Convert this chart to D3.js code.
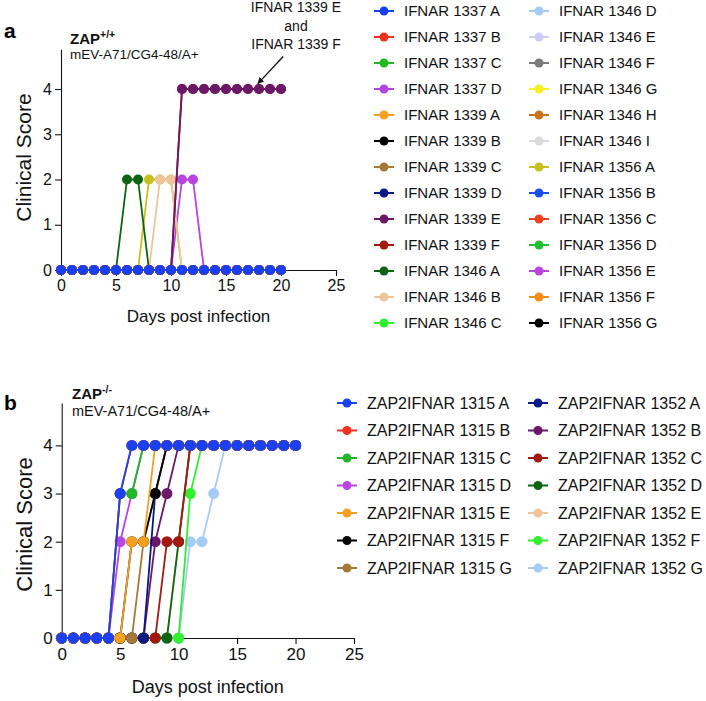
<!DOCTYPE html>
<html>
<head>
<meta charset="utf-8">
<script src="https://cdn.jsdelivr.net/npm/d3@7"></script>
<style>
  body { margin: 0; background: #fff; }
  svg { display: block; font-family: "Liberation Sans", Arial, Helvetica, sans-serif; }
</style>
</head>
<body>
<svg id="chart" width="706" height="701"></svg>
<script>
// ---------------- DATA ----------------
const days = [0,1,2,3,4,5,6,7,8,9,10,11,12,13,14,15,16,17,18,19,20];
const xTicks = [0,5,10,15,20,25];
const yTicks = [0,1,2,3,4];

// Panel a: ZAP+/+ (IFNAR mice)
const namesA = [
  "IFNAR 1337 A","IFNAR 1337 B","IFNAR 1337 C","IFNAR 1337 D",
  "IFNAR 1339 A","IFNAR 1339 B","IFNAR 1339 C","IFNAR 1339 D","IFNAR 1339 E","IFNAR 1339 F",
  "IFNAR 1346 A","IFNAR 1346 B","IFNAR 1346 C","IFNAR 1346 D","IFNAR 1346 E","IFNAR 1346 F",
  "IFNAR 1346 G","IFNAR 1346 H","IFNAR 1346 I",
  "IFNAR 1356 A","IFNAR 1356 B","IFNAR 1356 C","IFNAR 1356 D","IFNAR 1356 E","IFNAR 1356 F","IFNAR 1356 G"
];
const colorsA = [
  "#1a3ff0","#f0301e","#22b822","#b545e0",
  "#f5a020","#000000","#a57a35","#0a1a85","#6c1868","#a51810",
  "#0f6414","#f0c49a","#2ef02e","#a6ccf5","#cfcdf5","#7a7a7a",
  "#f8f020","#c87418","#dadada",
  "#c8c018","#1c4ef5","#f0401a","#20c030","#b845e0","#f58c18","#000000"
];
const valuesA = [
  [0,0,0,0,0,0,0,0,0,0,0,0,0,0,0,0,0,0,0,0,0], // 1337 A
  [0,0,0,0,0,0,0,0,0,0,0,0,0,0,0,0,0,0,0,0,0], // 1337 B
  [0,0,0,0,0,0,0,0,0,0,0,0,0,0,0,0,0,0,0,0,0], // 1337 C
  [0,0,0,0,0,0,0,0,0,0,0,0,0,0,0,0,0,0,0,0,0], // 1337 D
  [0,0,0,0,0,0,0,0,0,0,0,0,0,0,0,0,0,0,0,0,0], // 1339 A
  [0,0,0,0,0,0,0,0,0,0,0,0,0,0,0,0,0,0,0,0,0], // 1339 B
  [0,0,0,0,0,0,0,0,0,0,0,0,0,0,0,0,0,0,0,0,0], // 1339 C
  [0,0,0,0,0,0,0,0,0,0,0,0,0,0,0,0,0,0,0,0,0], // 1339 D
  [0,0,0,0,0,0,0,0,0,0,0,4,4,4,4,4,4,4,4,4,4], // 1339 E
  [0,0,0,0,0,0,0,0,0,0,0,4,4,4,4,4,4,4,4,4,4], // 1339 F
  [0,0,0,0,0,0,2,2,0,0,0,0,0,0,0,0,0,0,0,0,0], // 1346 A
  [0,0,0,0,0,0,0,0,0,2,2,0,0,0,0,0,0,0,0,0,0], // 1346 B
  [0,0,0,0,0,0,0,0,0,0,0,0,0,0,0,0,0,0,0,0,0], // 1346 C
  [0,0,0,0,0,0,0,0,0,0,0,0,0,0,0,0,0,0,0,0,0], // 1346 D
  [0,0,0,0,0,0,0,0,0,0,0,0,0,0,0,0,0,0,0,0,0], // 1346 E
  [0,0,0,0,0,0,0,0,0,0,0,0,0,0,0,0,0,0,0,0,0], // 1346 F
  [0,0,0,0,0,0,0,0,0,0,0,0,0,0,0,0,0,0,0,0,0], // 1346 G
  [0,0,0,0,0,0,0,0,0,0,0,0,0,0,0,0,0,0,0,0,0], // 1346 H
  [0,0,0,0,0,0,0,0,0,0,0,0,0,0,0,0,0,0,0,0,0], // 1346 I
  [0,0,0,0,0,0,0,0,2,2,2,0,0,0,0,0,0,0,0,0,0], // 1356 A
  [0,0,0,0,0,0,0,0,0,0,0,0,0,0,0,0,0,0,0,0,0], // 1356 B
  [0,0,0,0,0,0,0,0,0,0,0,0,0,0,0,0,0,0,0,0,0], // 1356 C
  [0,0,0,0,0,0,0,0,0,0,0,0,0,0,0,0,0,0,0,0,0], // 1356 D
  [0,0,0,0,0,0,0,0,0,0,0,2,2,0,0,0,0,0,0,0,0], // 1356 E
  [0,0,0,0,0,0,0,0,0,0,0,0,0,0,0,0,0,0,0,0,0], // 1356 F
  [0,0,0,0,0,0,0,0,0,0,0,0,0,0,0,0,0,0,0,0,0]  // 1356 G
];

// Panel b: ZAP-/- (ZAP2IFNAR mice)
const namesB = [
  "ZAP2IFNAR 1315 A","ZAP2IFNAR 1315 B","ZAP2IFNAR 1315 C","ZAP2IFNAR 1315 D",
  "ZAP2IFNAR 1315 E","ZAP2IFNAR 1315 F","ZAP2IFNAR 1315 G",
  "ZAP2IFNAR 1352 A","ZAP2IFNAR 1352 B","ZAP2IFNAR 1352 C","ZAP2IFNAR 1352 D",
  "ZAP2IFNAR 1352 E","ZAP2IFNAR 1352 F","ZAP2IFNAR 1352 G"
];
const colorsB = [
  "#1a40f0","#f03020","#20b828","#b848e0","#f5a020","#000000","#a57a35",
  "#0a1a85","#6c1868","#a51810","#0f6414","#f0c49a","#2ef02e","#a6ccf5"
];
const valuesB = [
  [0,0,0,0,0,3,4,4,4,4,4,4,4,4,4,4,4,4,4,4,4], // 1315 A
  [0,0,0,0,0,3,4,4,4,4,4,4,4,4,4,4,4,4,4,4,4], // 1315 B
  [0,0,0,0,0,3,3,4,4,4,4,4,4,4,4,4,4,4,4,4,4], // 1315 C
  [0,0,0,0,0,2,3,4,4,4,4,4,4,4,4,4,4,4,4,4,4], // 1315 D
  [0,0,0,0,0,0,2,2,4,4,4,4,4,4,4,4,4,4,4,4,4], // 1315 E
  [0,0,0,0,0,0,2,2,3,4,4,4,4,4,4,4,4,4,4,4,4], // 1315 F
  [0,0,0,0,0,0,0,2,3,4,4,4,4,4,4,4,4,4,4,4,4], // 1315 G
  [0,0,0,0,0,0,0,0,3,4,4,4,4,4,4,4,4,4,4,4,4], // 1352 A
  [0,0,0,0,0,0,0,0,2,3,4,4,4,4,4,4,4,4,4,4,4], // 1352 B
  [0,0,0,0,0,0,0,0,0,2,2,4,4,4,4,4,4,4,4,4,4], // 1352 C
  [0,0,0,0,0,0,0,0,0,0,2,4,4,4,4,4,4,4,4,4,4], // 1352 D
  [0,0,0,0,0,0,0,0,0,0,2,4,4,4,4,4,4,4,4,4,4], // 1352 E
  [0,0,0,0,0,0,0,0,0,0,0,3,4,4,4,4,4,4,4,4,4], // 1352 F
  [0,0,0,0,0,0,0,0,0,0,0,2,2,3,4,4,4,4,4,4,4]  // 1352 G
];

// ---------------- DRAWING ----------------
const svg = d3.select("#chart");

function drawPanel(cfg) {
  const x = d3.scaleLinear().domain([0, 25]).range([cfg.x0, cfg.x1]);
  const y = d3.scaleLinear().domain([0, 4.88]).range([cfg.y0, cfg.yTop]);
  const g = svg.append("g");

  // axes
  const xAxis = d3.axisBottom(x).tickValues(xTicks).tickFormat(d3.format("d"))
    .tickSize(6).tickSizeOuter(0).tickPadding(4);
  const yAxis = d3.axisLeft(y).tickValues(yTicks).tickFormat(d3.format("d"))
    .tickSize(6).tickSizeOuter(0).tickPadding(3);
  const gx = g.append("g").attr("transform", `translate(0,${cfg.y0})`).call(xAxis);
  const gy = g.append("g").attr("transform", `translate(${cfg.x0},0)`).call(yAxis);
  [gx, gy].forEach(a => {
    a.selectAll("path,line").attr("stroke", "#111").attr("stroke-width", 1.1);
    a.selectAll("text").attr("fill", "#111").style("font-size", cfg.tickFont + "px")
      .style("font-family", '"Liberation Sans", Arial, sans-serif');
  });

  // axis titles
  g.append("text").attr("x", (cfg.x0 + cfg.x1) / 2).attr("y", cfg.xTitleY)
    .attr("text-anchor", "middle").style("font-size", cfg.xTitleFont + "px").attr("fill", "#111")
    .text("Days post infection");
  g.append("text")
    .attr("transform", `translate(${cfg.yTitleX},${(cfg.y0 + cfg.yTop) / 2 + cfg.yTitleShift}) rotate(-90)`)
    .attr("text-anchor", "middle").style("font-size", cfg.yTitleFont + "px").attr("fill", "#111")
    .text("Clinical Score");

  // series: draw in reverse order so the first series sits on top
  const line = d3.line().x((d, i) => x(days[i])).y(d => y(d));
  const idx = d3.range(cfg.values.length).reverse();
  idx.forEach(s => {
    const sg = g.append("g");
    sg.append("path").datum(cfg.values[s]).attr("d", line)
      .attr("fill", "none").attr("stroke", cfg.colors[s]).attr("stroke-width", 1.8);
    sg.selectAll("circle").data(cfg.values[s]).join("circle")
      .attr("cx", (d, i) => x(days[i])).attr("cy", d => y(d)).attr("r", cfg.r)
      .attr("fill", cfg.colors[s]);
  });

  // legend
  const nRows = Math.ceil(cfg.names.length / 2);
  cfg.names.forEach((nm, i) => {
    const col = Math.floor(i / nRows), row = i % nRows;
    const mx = cfg.legX[col], my = cfg.legY0 + row * cfg.legDy;
    const lg = g.append("g");
    lg.append("line").attr("x1", mx - 10).attr("x2", mx + 10).attr("y1", my).attr("y2", my)
      .attr("stroke", cfg.colors[i]).attr("stroke-width", 2);
    lg.append("circle").attr("cx", mx).attr("cy", my).attr("r", 4.5).attr("fill", cfg.colors[i]);
    lg.append("text").attr("x", mx + 20).attr("y", my).attr("dy", "0.36em")
      .style("font-size", cfg.legFont + "px").attr("fill", "#111").text(nm);
  });

  // panel letter and titles
  g.append("text").attr("x", 4).attr("y", cfg.letterY).style("font-size", "21px")
    .style("font-weight", "bold").text(cfg.letter);
  const t = g.append("text").attr("x", cfg.titleX).attr("y", cfg.titleY)
    .style("font-size", "15px").style("font-weight", "bold").attr("fill", "#111");
  t.append("tspan").text("ZAP");
  t.append("tspan").attr("dy", -6).style("font-size", "10.5px").text(cfg.sup);
  g.append("text").attr("x", cfg.titleX).attr("y", cfg.subY).style("font-size", cfg.subFont + "px")
    .attr("fill", "#111").text("mEV-A71/CG4-48/A+");
  return { x, y, g };
}

const pa = drawPanel({
  x0: 61, x1: 336, y0: 270, yTop: 49.2,
  values: valuesA, colors: colorsA, names: namesA, r: 5,
  tickFont: 16, xTitleY: 322, xTitleFont: 17, yTitleX: 31, yTitleShift: -2, yTitleFont: 21,
  legX: [384, 539], legY0: 11, legDy: 26, legFont: 15,
  letter: "a", letterY: 38, titleX: 70, titleY: 44, sup: "+/+", subY: 59, subFont: 13.5
});

const pb = drawPanel({
  x0: 61.7, x1: 354, y0: 638, yTop: 403,
  values: valuesB, colors: colorsB, names: namesB, r: 5.5,
  tickFont: 17, xTitleY: 693, xTitleFont: 18, yTitleX: 32, yTitleShift: 4, yTitleFont: 22,
  legX: [347, 538], legY0: 403, legDy: 27.5, legFont: 16,
  letter: "b", letterY: 410, titleX: 72, titleY: 399, sup: "-/-", subY: 416, subFont: 14.5
});

// annotation in panel a
const ann = svg.append("g").style("font-size", "14px").attr("fill", "#111");
[["IFNAR 1339 E", 12], ["and", 30.5], ["IFNAR 1339 F", 49]].forEach(([s, yy]) => {
  ann.append("text").attr("x", 296).attr("y", yy).attr("text-anchor", "middle").text(s);
});
svg.append("defs").append("marker").attr("id", "arr").attr("viewBox", "0 0 10 10")
  .attr("refX", 9).attr("refY", 5).attr("markerWidth", 5).attr("markerHeight", 5)
  .attr("orient", "auto").append("path").attr("d", "M0,0 L10,5 L0,10 z").attr("fill", "#111");
const ax0 = pa.x(20.2), ay0 = pa.y(4.72), ax1 = pa.x(17.9), ay1 = pa.y(4.12);
svg.append("line").attr("x1", ax0).attr("y1", ay0).attr("x2", ax1).attr("y2", ay1)
  .attr("stroke", "#111").attr("stroke-width", 1.3).attr("marker-end", "url(#arr)");
</script>
</body>
</html>
